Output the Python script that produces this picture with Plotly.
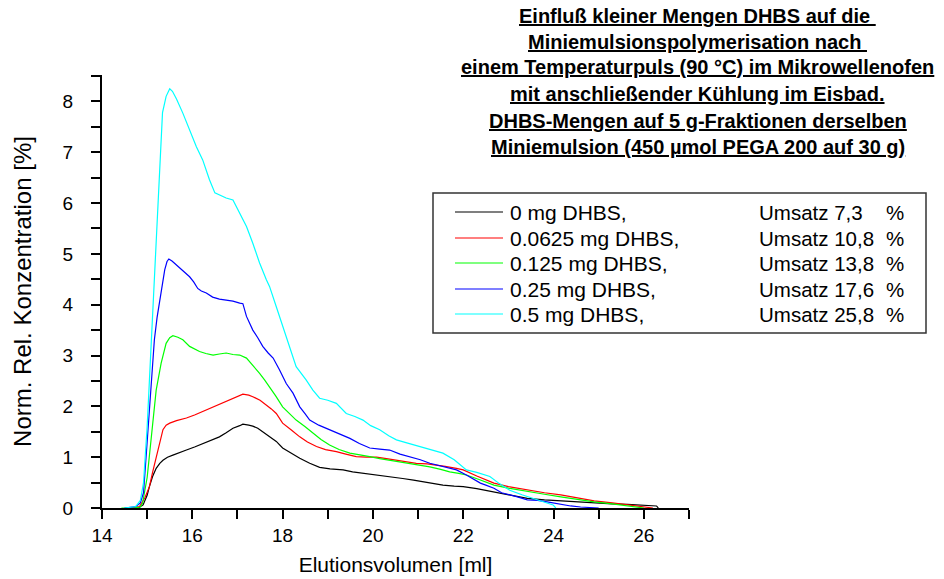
import plotly.graph_objects as go

# ---------------- data ----------------
x_0mg = [14.6, 14.8, 14.91, 15.0, 15.05, 15.12, 15.2, 15.28, 15.35, 15.45, 15.57, 15.7, 15.87, 16.05, 16.23,
         16.4, 16.6, 16.75, 16.9, 17.05, 17.12, 17.25, 17.34, 17.45, 17.56, 17.71, 17.86, 18.0, 18.2, 18.38,
         18.6, 18.82, 19.05, 19.34, 19.55, 19.78, 20.0, 20.22, 20.45, 20.66, 20.9, 21.11, 21.33, 21.55, 21.8,
         22.0, 22.3, 22.68, 23.0, 23.42, 23.8, 24.16, 24.5, 24.9, 25.3, 25.64, 26.0, 26.28, 26.32]
y_0mg = [0, 0.0, 0.06, 0.25, 0.42, 0.62, 0.78, 0.88, 0.94, 1.0, 1.04, 1.09, 1.14, 1.2, 1.27,
         1.33, 1.4, 1.48, 1.57, 1.62, 1.65, 1.63, 1.61, 1.57, 1.5, 1.4, 1.31, 1.18, 1.07, 0.98,
         0.88, 0.8, 0.77, 0.75, 0.71, 0.68, 0.66, 0.63, 0.6, 0.58, 0.55, 0.52, 0.49, 0.45, 0.43,
         0.42, 0.38, 0.32, 0.26, 0.19, 0.16, 0.14, 0.11, 0.09, 0.08, 0.07, 0.05, 0.04, 0.0]

x_00625mg = [14.6, 14.83, 14.95, 15.05, 15.12, 15.2, 15.28, 15.35, 15.42, 15.5, 15.65, 15.87, 16.05, 16.23,
             16.4, 16.6, 16.75, 16.9, 17.0, 17.12, 17.25, 17.34, 17.5, 17.64, 17.75, 17.86, 18.0, 18.2,
             18.38, 18.55, 18.75, 18.95, 19.19, 19.4, 19.63, 19.85, 20.08, 20.3, 20.52, 20.75, 20.96,
             21.2, 21.4, 21.6, 21.85, 22.0, 22.3, 22.68, 23.0, 23.42, 23.8, 24.16, 24.5, 24.9, 25.3,
             25.64, 25.9, 26.13, 26.2]
y_00625mg = [0, 0.03, 0.2, 0.42, 0.7, 1.01, 1.3, 1.54, 1.63, 1.67, 1.72, 1.77, 1.83, 1.9,
             1.96, 2.03, 2.1, 2.16, 2.2, 2.24, 2.22, 2.19, 2.12, 2.03, 1.95, 1.86, 1.67, 1.53,
             1.4, 1.3, 1.21, 1.15, 1.11, 1.06, 1.01, 1.0, 1.0, 0.97, 0.94, 0.91, 0.88,
             0.87, 0.85, 0.82, 0.78, 0.75, 0.63, 0.49, 0.42, 0.35, 0.3, 0.26, 0.2, 0.14, 0.1,
             0.06, 0.03, 0.01, 0.0]

x_0125mg = [14.43, 14.7, 14.85, 14.9, 15.0, 15.1, 15.2, 15.31, 15.42, 15.5, 15.57, 15.68, 15.79, 15.94,
            16.16, 16.3, 16.46, 16.6, 16.75, 16.9, 17.05, 17.2, 17.34, 17.49, 17.6, 17.71, 17.85, 18.0,
            18.15, 18.3, 18.5, 18.67, 18.85, 19.04, 19.25, 19.49, 19.7, 19.93, 20.15, 20.37, 20.6,
            20.82, 21.05, 21.26, 21.5, 21.7, 21.9, 22.07, 22.35, 22.68, 23.0, 23.42, 23.8, 24.16,
            24.5, 24.9, 25.3, 25.64, 26.0]
y_0125mg = [0, 0.0, 0.02, 0.1, 0.6, 1.5, 2.32, 2.85, 3.24, 3.35, 3.39, 3.36, 3.31, 3.18,
            3.08, 3.04, 3.01, 3.03, 3.05, 3.02, 3.01, 2.95, 2.81, 2.65, 2.52, 2.39, 2.2, 1.99,
            1.85, 1.73, 1.6, 1.47, 1.35, 1.24, 1.15, 1.08, 1.04, 1.01, 0.97, 0.94, 0.91,
            0.88, 0.84, 0.81, 0.76, 0.71, 0.68, 0.65, 0.56, 0.45, 0.39, 0.32, 0.27, 0.22,
            0.17, 0.12, 0.08, 0.04, 0.0]

x_025mg = [14.5, 14.75, 14.85, 14.92, 15.0, 15.09, 15.16, 15.22, 15.28, 15.34, 15.39, 15.44, 15.48, 15.55,
           15.65, 15.76, 15.85, 15.94, 16.03, 16.12, 16.2, 16.31, 16.45, 16.6, 16.75, 16.9, 17.05, 17.12,
           17.2, 17.34, 17.45, 17.56, 17.68, 17.79, 17.93, 18.08, 18.23, 18.38, 18.5, 18.6, 18.8, 19.04,
           19.25, 19.49, 19.7, 19.93, 20.15, 20.37, 20.6, 20.82, 21.05, 21.26, 21.55, 21.85, 22.07, 22.2,
           22.38, 22.5, 22.68, 22.85, 23.05, 23.2, 23.42, 23.65, 23.86, 24.1, 24.38, 24.6, 24.9, 25.0]
y_025mg = [0, 0.03, 0.1, 0.3, 1.3, 2.52, 3.31, 3.75, 4.09, 4.45, 4.69, 4.85, 4.9, 4.86,
           4.78, 4.69, 4.62, 4.55, 4.45, 4.32, 4.27, 4.23, 4.15, 4.11, 4.09, 4.07, 4.03, 4.02,
           3.77, 3.5, 3.35, 3.18, 3.05, 2.95, 2.72, 2.45, 2.26, 1.99, 1.85, 1.73, 1.63, 1.54,
           1.46, 1.37, 1.27, 1.18, 1.16, 1.14, 1.06, 1.01, 0.95, 0.88, 0.82, 0.75, 0.65, 0.58,
           0.49, 0.45, 0.39, 0.3, 0.26, 0.22, 0.16, 0.15, 0.12, 0.08, 0.04, 0.02, 0.01, 0.0]

x_05mg = [14.5, 14.75, 14.85, 14.92, 15.0, 15.05, 15.1, 15.15, 15.26, 15.34, 15.42, 15.5, 15.56, 15.65,
          15.79, 15.94, 16.09, 16.23, 16.38, 16.5, 16.6, 16.75, 16.9, 17.05, 17.2, 17.34, 17.49, 17.64,
          17.71, 17.86, 18.0, 18.15, 18.3, 18.52, 18.67, 18.82, 19.0, 19.19, 19.41, 19.6, 19.78, 19.95,
          20.15, 20.35, 20.52, 20.75, 21.03, 21.3, 21.55, 21.8, 22.07, 22.3, 22.59, 22.8, 23.03, 23.3,
          23.54, 23.75, 23.99, 24.05]
y_05mg = [0, 0.03, 0.15, 0.5, 1.6, 2.52, 3.5, 4.49, 6.46, 7.78, 8.1, 8.25, 8.2, 8.05,
          7.77, 7.44, 7.11, 6.85, 6.46, 6.2, 6.16, 6.1, 6.06, 5.8, 5.54, 5.21, 4.82, 4.49,
          4.36, 3.96, 3.57, 3.18, 2.78, 2.52, 2.32, 2.16, 2.12, 2.06, 1.86, 1.8, 1.73, 1.62,
          1.54, 1.42, 1.34, 1.28, 1.21, 1.15, 1.08, 0.95, 0.75, 0.7, 0.62, 0.48, 0.35, 0.26,
          0.19, 0.12, 0.06, 0.0]

series_labels = ["0 mg DHBS,", "0.0625 mg DHBS,", "0.125 mg DHBS,", "0.25 mg DHBS,", "0.5 mg DHBS,"]
umsatz_values = ["7,3", "10,8", "13,8", "17,6", "25,8"]
series_colors = ["#000000", "#ff0000", "#00ff00", "#0000ff", "#00ffff"]
series_x = [x_0mg, x_00625mg, x_0125mg, x_025mg, x_05mg]
series_y = [y_0mg, y_00625mg, y_0125mg, y_025mg, y_05mg]

title_lines = [
    "Einfluß kleiner Mengen DHBS auf die ",
    "Miniemulsionspolymerisation nach ",
    "einem Temperaturpuls (90 °C) im Mikrowellenofen",
    "mit anschließender Kühlung im Eisbad.",
    "DHBS-Mengen auf 5 g-Fraktionen derselben",
    "Miniemulsion (450 µmol PEGA 200 auf 30 g)",
]
x_tick_vals = [14, 16, 18, 20, 22, 24, 26]
y_tick_vals = [0, 1, 2, 3, 4, 5, 6, 7, 8]

# ---------------- layout geometry ----------------
W, H = 944, 579
ML, MR, MT, MB = 102, 255, 75, 71
PW, PH = W - ML - MR, H - MT - MB
FONT = "Liberation Sans, Arial, sans-serif"


def px(xp):
    return (xp - ML) / PW


def py(yp):
    return (H - MB - yp) / PH


fig = go.Figure()
for name, col, xs, ys in zip(series_labels, series_colors, series_x, series_y):
    fig.add_trace(go.Scatter(x=xs, y=ys, mode="lines", name=name,
                             line=dict(color=col, width=1.2), showlegend=False))

axis_common = dict(showgrid=False, zeroline=False, showline=True, linecolor="black", linewidth=2,
                   ticks="outside", ticklen=9, tickwidth=1.5, tickcolor="black", automargin=False,
                   tickfont=dict(family=FONT, size=19, color="black"))
fig.update_xaxes(range=[14, 27], tickvals=x_tick_vals, ticklabelstandoff=0,
                 minor=dict(dtick=1, ticks="outside", ticklen=9, tickwidth=1.5, tickcolor="black"),
                 title=dict(text="Elutionsvolumen [ml]", font=dict(family=FONT, size=21, color="black"),
                            standoff=13),
                 **axis_common)
fig.update_yaxes(range=[0, 8.52], tickvals=y_tick_vals, ticklabelstandoff=14,
                 minor=dict(dtick=0.5, ticks="outside", ticklen=9, tickwidth=1.5, tickcolor="black"),
                 title=dict(text="Norm. Rel. Konzentration [%]", font=dict(family=FONT, size=24, color="black"),
                            standoff=24),
                 **axis_common)

shapes = []
annotations = []
# title lines
title_y = [16, 42, 67, 94, 121, 147]
for line, yc in zip(title_lines, title_y):
    annotations.append(dict(text="<u><b>" + line + "</b></u>", xref="paper", yref="paper",
                            x=px(698), y=py(yc), xanchor="center", yanchor="middle", showarrow=False,
                            font=dict(family=FONT, size=20, color="black")))

# legend box
shapes.append(dict(type="rect", xref="paper", yref="paper", x0=px(433), x1=px(926), y0=py(333), y1=py(193),
                   line=dict(color="#333333", width=1.5), fillcolor="rgba(0,0,0,0)"))
row_y = [212, 238, 263, 289, 314]
for name, col, val, yc in zip(series_labels, series_colors, umsatz_values, row_y):
    shapes.append(dict(type="line", xref="paper", yref="paper", x0=px(455), x1=px(503), y0=py(yc), y1=py(yc),
                       line=dict(color=col, width=1.2)))
    annotations.append(dict(text=name, xref="paper", yref="paper", x=px(508), y=py(yc),
                            xanchor="left", yanchor="middle", showarrow=False,
                            font=dict(family=FONT, size=21, color="black")))
    annotations.append(dict(text="Umsatz " + val, xref="paper", yref="paper", x=px(757), y=py(yc),
                            xanchor="left", yanchor="middle", showarrow=False,
                            font=dict(family=FONT, size=20.5, color="black")))
    annotations.append(dict(text="%", xref="paper", yref="paper", x=px(884), y=py(yc),
                            xanchor="left", yanchor="middle", showarrow=False,
                            font=dict(family=FONT, size=20.5, color="black")))

fig.update_layout(width=W, height=H, margin=dict(l=ML, r=MR, t=MT, b=MB, autoexpand=False),
                  paper_bgcolor="white", plot_bgcolor="white",
                  shapes=shapes, annotations=annotations, showlegend=False,
                  font=dict(family=FONT, color="black"))

fig.write_html("out.html")
